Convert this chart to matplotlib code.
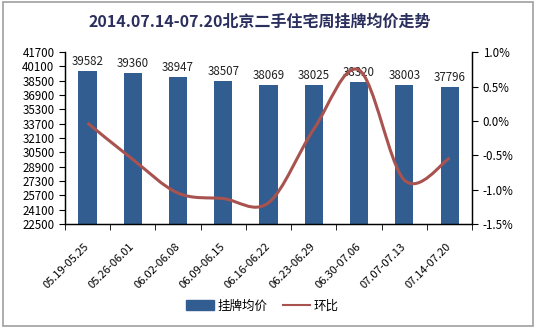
import matplotlib
matplotlib.use("Agg")
from matplotlib import pyplot as plt
from matplotlib.patches import Rectangle
from matplotlib.path import Path
from matplotlib.patches import PathPatch
from matplotlib.lines import Line2D
from matplotlib.ticker import FuncFormatter
import numpy as np

plt.rcParams['font.family'] = ['Noto Sans CJK SC', 'DejaVu Sans']

weeks = ["05.19-05.25", "05.26-06.01", "06.02-06.08", "06.09-06.15", "06.16-06.22",
         "06.23-06.29", "06.30-07.06", "07.07-07.13", "07.14-07.20"]
prices = [39582, 39360, 38947, 38507, 38069, 38025, 38320, 38003, 37796]
change = [-0.03, -0.56, -1.05, -1.13, -1.19, -0.12, 0.74, -0.86, -0.54]  # percent

bar_color = "#325d90"
line_color = "#a8534f"

fig = plt.figure(figsize=(5.36, 3.28), dpi=100)
fig.patches.append(Rectangle((0.005, 0.006), 0.99, 0.988, transform=fig.transFigure,
                             fill=False, edgecolor="#a0a0a0", linewidth=1.2))

ax = fig.add_axes([0.121, 0.317, 0.760, 0.524])
x = np.arange(len(weeks))
ax.bar(x, prices, width=0.4, color=bar_color, zorder=2)
for xi, p in zip(x, prices):
    ax.text(xi, p + 350, str(p), ha="center", va="bottom", fontsize=8.3, color="#222222")

ax.set_xlim(-0.5, len(weeks) - 0.5)
ax.set_ylim(22500, 41700)
ax.set_yticks(np.arange(22500, 41701, 1600))
ax.set_xticks(x)
ax.set_xticklabels(weeks, rotation=45, ha="right", va="center", rotation_mode="anchor")
ax.set_xticks(np.arange(-0.5, len(weeks), 1), minor=True)
ax.tick_params(axis="x", which="major", length=0, pad=15, labelsize=8)
ax.tick_params(axis="x", which="minor", length=4, direction="out")
ax.tick_params(axis="y", length=4, direction="out", labelsize=8.3)
ax.spines["top"].set_visible(False)
for s in ax.spines.values():
    s.set_linewidth(0.9)

ax2 = ax.twinx()
ax2.set_ylim(-1.5, 1.0)
ax2.set_yticks(np.arange(-1.5, 1.01, 0.5))
ax2.yaxis.set_major_formatter(FuncFormatter(lambda v, _: f"{v:.1f}%"))
ax2.tick_params(axis="y", length=4, direction="out", labelsize=8.3)
ax2.spines["top"].set_visible(False)
for s in ax2.spines.values():
    s.set_linewidth(0.9)

# smoothed line (Bezier through points, like a spreadsheet's smooth line)
pts = np.column_stack([x, change]).astype(float)
verts = [tuple(pts[0])]
codes = [Path.MOVETO]
n = len(pts)
for i in range(n - 1):
    p0 = pts[i - 1] if i > 0 else pts[i]
    p1 = pts[i]
    p2 = pts[i + 1]
    p3 = pts[i + 2] if i + 2 < n else pts[i + 1]
    c1 = p1 + (p2 - p0) / 6.0
    c2 = p2 - (p3 - p1) / 6.0
    verts += [tuple(c1), tuple(c2), tuple(p2)]
    codes += [Path.CURVE4] * 3
ax2.add_patch(PathPatch(Path(verts, codes), fill=False, edgecolor=line_color,
                        linewidth=2.2, zorder=3))

fig.text(0.485, 0.933, "2014.07.14-07.20北京二手住宅周挂牌均价走势", ha="center", va="center",
         fontsize=11.5, fontweight="bold", color="#2b2f5e")

handles = [Rectangle((0, 0), 1, 1, color=bar_color),
           Line2D([0], [0], color=line_color, linewidth=1.5)]
fig.legend(handles, ["挂牌均价", "环比"], loc="center", bbox_to_anchor=(0.49, 0.067),
           ncol=2, frameon=False, fontsize=9, handlelength=2.2, handleheight=0.8,
           columnspacing=1.2, handletextpad=0.3)

fig.savefig("out.png", dpi=100)
